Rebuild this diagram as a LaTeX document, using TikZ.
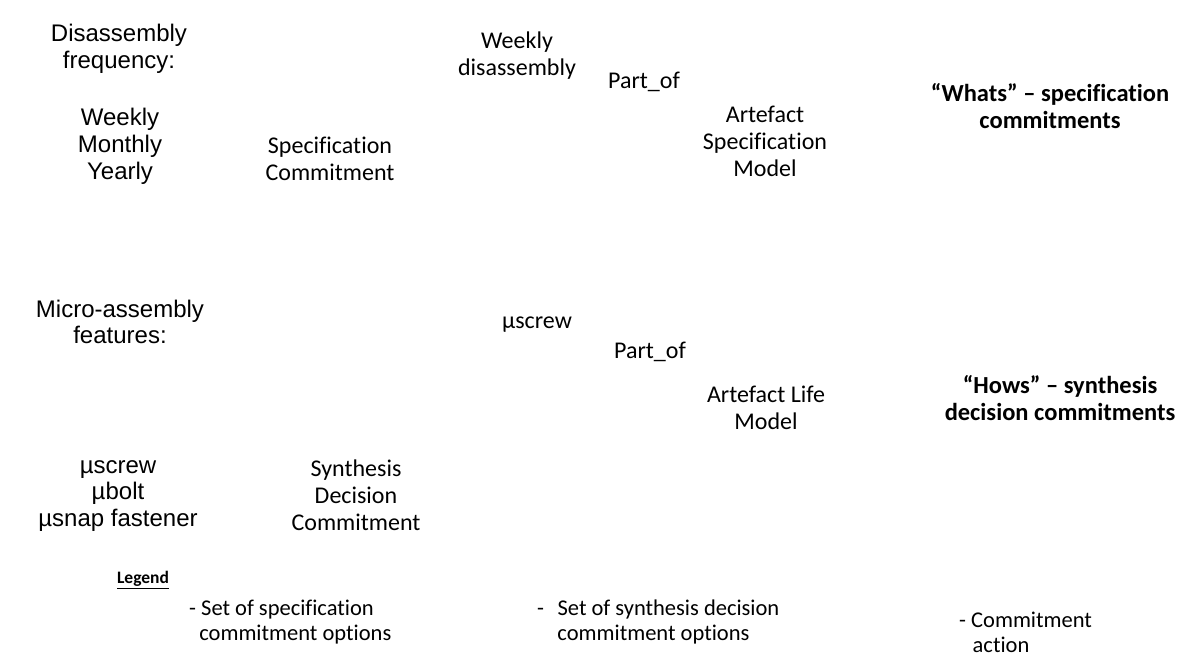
\documentclass[tikz,border=0pt]{standalone}
\usepackage{fontspec}
\setmainfont{Carlito}[Ligatures=NoCommon]
\newfontfamily\arialfont{Liberation Sans}
\usetikzlibrary{positioning}

\begin{document}
\begin{tikzpicture}[
    x=1pt, y=-1pt,
    optlist/.style={align=center, font=\arialfont\fontsize{24}{26.8}\selectfont},
    commit/.style={align=center, font=\fontsize{24}{27}\selectfont},
    heading/.style={align=center, font=\bfseries\fontsize{24.5}{27}\selectfont},
    legend/.style={align=left, anchor=west, inner sep=1pt, font=\fontsize{22.5}{25}\selectfont}
]
\useasboundingbox (0,0) rectangle (1180,657);

% Specification level
\node[optlist] (freq) at (119,49) {Disassembly\\frequency:};
\node[optlist] (freqopt) at (120,146) {Weekly\\Monthly\\Yearly};
\node[commit] (spec) at (330,159) {Specification\\Commitment};
\node[commit] (weekly) at (517,56) {Weekly\\disassembly};
\node[commit] (partspec) at (644,82) {Part\_of};
\node[commit] (asm) at (765,141) {Artefact\\Specification\\Model};
\node[heading] (whats) at (1050,106) {“Whats” – specification\\commitments};

% Synthesis level
\node[optlist] (feat) at (120,322) {Micro-assembly\\features:};
\node[optlist] (featopt) at (118,496) {µscrew\\µbolt\\µsnap fastener};
\node[commit] (synth) at (356,495) {Synthesis\\Decision\\Commitment};
\node[commit] (screw) at (537,325) {µscrew};
\node[commit] (partlife) at (650,352) {Part\_of};
\node[commit] (alm) at (766,408) {Artefact Life\\Model};
\node[heading] (hows) at (1060,398) {“Hows” – synthesis\\decision commitments};

% Legend
\node[font=\bfseries\fontsize{17.5}{20}\selectfont] (leg) at (143,580) {\underline{Legend}};
\node[legend] (legspec) at (188,622) {- Set of specification\\\hspace*{0.45em}commitment options};
\node[legend] (legsynth) at (536,622) {-\hspace*{0.6em}Set of synthesis decision\\\hspace*{0.9em}commitment options};
\node[legend] (legact) at (958,632) {- Commitment\\\hspace*{0.6em}action};
\end{tikzpicture}
\end{document}
